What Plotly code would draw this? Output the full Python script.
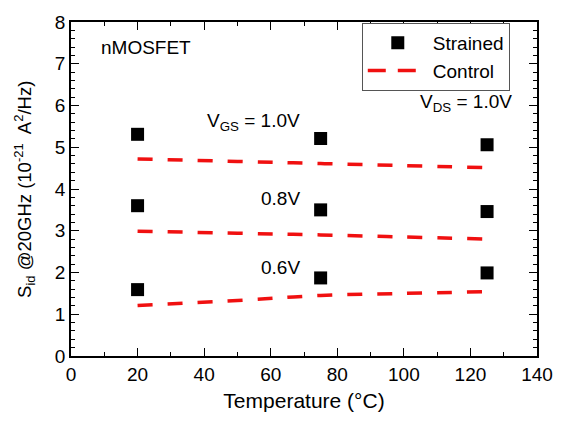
import plotly.graph_objects as go

temps = [20, 75, 125]
strained_10 = [5.31, 5.21, 5.06]
strained_08 = [3.60, 3.50, 3.46]
strained_06 = [1.59, 1.87, 1.99]

ctrl_t = [20, 50, 75, 100, 125]
control_10 = [4.72, 4.66, 4.61, 4.56, 4.51]
control_08 = [2.99, 2.94, 2.90, 2.85, 2.80]
control_06 = [1.21, 1.33, 1.45, 1.50, 1.54]

FONT = "Liberation Sans, Arial, Helvetica, sans-serif"
RED = "#f01010"

fig = go.Figure()
for i, ys in enumerate([control_10, control_08, control_06]):
    fig.add_trace(go.Scatter(x=ctrl_t, y=ys, mode="lines", line=dict(color=RED, width=3.5, dash="15px,15px"),
                             showlegend=False, line_shape="spline"))
for ys in [strained_10, strained_08, strained_06]:
    fig.add_trace(go.Scatter(x=temps, y=ys, mode="markers",
                             marker=dict(symbol="square", size=13, color="black"), showlegend=False))
# legend entries
fig.add_trace(go.Scatter(x=[None], y=[None], mode="markers", name="Strained",
                         marker=dict(symbol="square", size=13, color="black")))
fig.add_trace(go.Scatter(x=[None], y=[None], mode="lines", name="Control",
                         line=dict(color=RED, width=3.5, dash="18px,12px")))

axis_common = dict(showline=True, linecolor="black", linewidth=1.5, mirror="allticks",
                   ticks="inside", ticklen=8, tickwidth=1.2, tickcolor="black",
                   showgrid=False, zeroline=False,
                   tickfont=dict(family=FONT, size=19, color="black"))
fig.update_xaxes(range=[0, 140], dtick=20,
                 minor=dict(dtick=10, ticks="inside", ticklen=4, tickcolor="black"),
                 title=dict(text="Temperature (°C)", font=dict(family=FONT, size=21, color="black"), standoff=10),
                 **axis_common)
fig.update_yaxes(range=[0, 8], dtick=1,
                 minor=dict(dtick=0.2, ticks="inside", ticklen=4, tickcolor="black"),
                 **axis_common)

fig.add_annotation(xref="paper", yref="paper", x=-0.101, y=0.5, textangle=-90,
                   text="S<sub>id</sub> @20GHz (10<sup>-21</sup>  A<sup>2</sup>/Hz)",
                   showarrow=False, xanchor="center", yanchor="middle",
                   font=dict(family=FONT, size=18.5, color="black"))

ann_font = dict(family=FONT, size=19, color="black")
fig.add_annotation(x=8.3, y=7.39, text="nMOSFET", showarrow=False, xanchor="left", yanchor="middle", font=ann_font)
fig.add_annotation(x=69.3, y=5.6, text="V<sub>GS</sub> = 1.0V", showarrow=False, xanchor="right", yanchor="middle", font=ann_font)
fig.add_annotation(x=69.3, y=3.78, text="0.8V", showarrow=False, xanchor="right", yanchor="middle", font=ann_font)
fig.add_annotation(x=69.3, y=2.12, text="0.6V", showarrow=False, xanchor="right", yanchor="middle", font=ann_font)
fig.add_annotation(x=133.2, y=6.05, text="V<sub>DS</sub> = 1.0V", showarrow=False, xanchor="right", yanchor="middle", font=ann_font)

fig.update_layout(
    width=569, height=421,
    margin=dict(l=71, r=32, t=13, b=65),
    paper_bgcolor="white", plot_bgcolor="white",
    font=dict(family=FONT, size=18, color="black"),
    legend=dict(x=0.624, y=0.997, xanchor="left", yanchor="top",
                bordercolor="#555", borderwidth=1, bgcolor="white",
                font=dict(family=FONT, size=19, color="black"),
                itemwidth=60, tracegroupgap=0),
)
fig.write_html("out.html")
